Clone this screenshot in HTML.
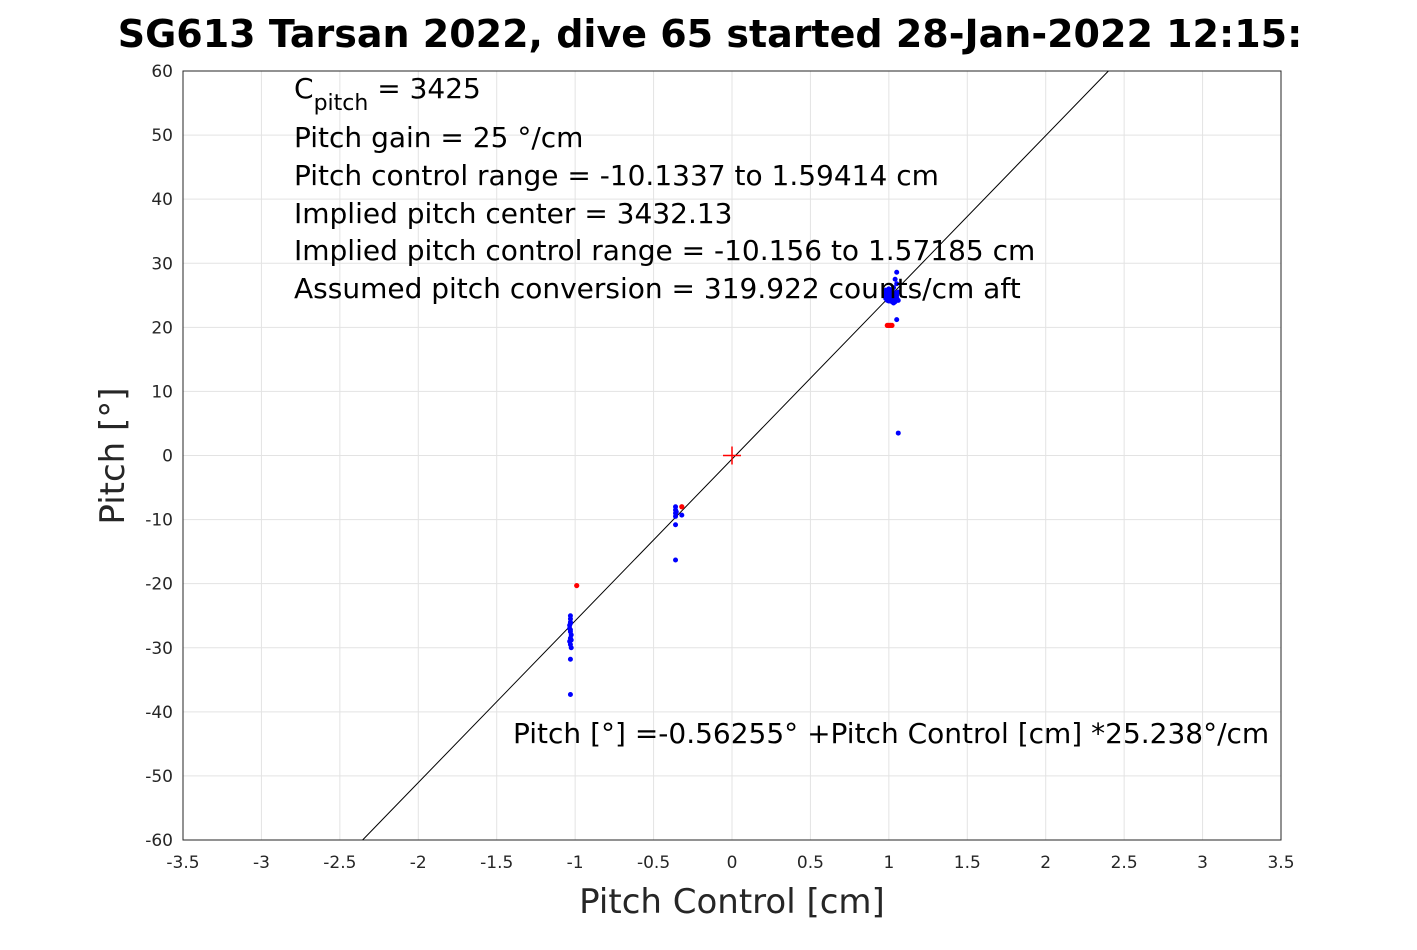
<!DOCTYPE html>
<html><head><meta charset="utf-8"><style>
body{margin:0;background:#fff;}
svg text{font-family:"DejaVu Sans","Liberation Sans",sans-serif;}
</style></head><body>
<svg id="chart" width="1417" height="945" viewBox="0 0 1417 945" xmlns="http://www.w3.org/2000/svg">
<rect width="1417" height="945" fill="#fff"/>
<text x="710" y="47" text-anchor="middle" font-size="38" font-weight="bold" fill="#000">SG613 Tarsan 2022, dive 65 started 28-Jan-2022 12:15:</text>
<g id="grid"></g><g id="axes"></g><g id="marks"></g>
<g font-size="28" fill="#000">
<text x="294" y="98">C<tspan font-size="22" dy="12">pitch</tspan><tspan dy="-12"> = 3425</tspan></text>
<text x="294" y="147">Pitch gain = 25 °/cm</text>
<text x="294" y="185">Pitch control range = -10.1337 to 1.59414 cm</text>
<text x="294" y="223">Implied pitch center = 3432.13</text>
<text x="294" y="260">Implied pitch control range = -10.156 to 1.57185 cm</text>
<text x="294" y="298">Assumed pitch conversion = 319.922 counts/cm aft</text>
<text x="513" y="743">Pitch [°] =-0.56255° +Pitch Control [cm] *25.238°/cm</text>
</g>
<text x="732" y="913" text-anchor="middle" font-size="34" fill="#262626">Pitch Control [cm]</text>
<text transform="translate(124,456) rotate(-90)" text-anchor="middle" font-size="34" fill="#262626">Pitch [°]</text>
</svg>
<script>
const xTicks=[-3.5,-3,-2.5,-2,-1.5,-1,-0.5,0,0.5,1,1.5,2,2.5,3,3.5];
const yTicks=[-60,-50,-40,-30,-20,-10,0,10,20,30,40,50,60];
const blueX=[-1.03,-1.03,-1.03,-1.035,-1.035,-1.03,-1.025,-1.03,-1.035,-1.03,-1.025,-1.03,-1.03,-1.025,-1.03,-1.03,-0.36,-0.36,-0.36,-0.36,-0.355,-0.36,-0.36,-0.32,0.97,0.98,0.99,1.0,1.01,1.02,1.03,1.04,1.05,1.0,1.03,1.05,1.04,1.05,1.06,1.05,1.06,1.06,0.98,1.02,0.99,1.0,1.01,1.02,1.03,1.04,1.05,0.98,1.0,1.02,1.04];
const blueY=[-25,-25.5,-26,-26.5,-27,-27.5,-28,-28.5,-29,-29.5,-30,-27.2,-26.2,-28.8,-31.8,-37.3,-8,-8.5,-9,-9.5,-8.8,-10.8,-16.3,-9.3,25,24.5,25.5,24.8,25.2,24,23.8,24.5,25,26,26.2,28.6,27.5,26.8,24.2,21.2,3.5,25.5,25.8,24.3,24.2,25.6,24.6,25.8,25.0,25.4,24.6,25.3,24.1,25.0,24.0];
const redX=[0.99,1.0,1.01,1.02,-0.99,-0.32];
const redY=[20.3,20.3,20.3,20.3,-20.3,-8];
const fitIntercept=-0.56255, fitSlope=25.238;
const X0=183,X1=1281,Y0=840,Y1=71;
const sx=v=>X0+(v+3.5)/7*(X1-X0);
const sy=v=>Y0-(v+60)/120*(Y0-Y1);
const NS='http://www.w3.org/2000/svg';
function mk(t,a,p){const e=document.createElementNS(NS,t);for(const k in a)e.setAttribute(k,a[k]);p.appendChild(e);return e;}
const grid=document.getElementById('grid'),axes=document.getElementById('axes'),marks=document.getElementById('marks');
xTicks.forEach(t=>{
 const l=mk('line',{x1:sx(t),x2:sx(t),y1:Y1,y2:Y0,stroke:'#e3e3e3','stroke-width':1},grid);
 
 
 const tx=mk('text',{x:sx(t),y:Y0+28,'text-anchor':'middle','font-size':17,fill:'#262626'},axes);
 tx.textContent=t;
 
 
});
yTicks.forEach(t=>{
 const l=mk('line',{x1:X0,x2:X1,y1:sy(t),y2:sy(t),stroke:'#e3e3e3','stroke-width':1},grid);
 
 
 const tx=mk('text',{x:X0-10,y:sy(t)+6,'text-anchor':'end','font-size':17,fill:'#262626'},axes);
 tx.textContent=t;
 
 
});
const box=mk('rect',{x:X0,y:Y1,width:X1-X0,height:Y0-Y1,fill:'none',stroke:'#262626','stroke-width':1},axes);


const xa=(-60-fitIntercept)/fitSlope, xb=(60-fitIntercept)/fitSlope;
const fl=mk('line',{x1:sx(xa),y1:sy(-60),x2:sx(xb),y2:sy(60),stroke:'#000','stroke-width':1},marks);


blueX.forEach((v,i)=>{
 const c=mk('circle',{cx:sx(v),cy:sy(blueY[i]),r:2.5,fill:'#0000ff'},marks);
 
 
});
redX.forEach((v,i)=>{
 const c=mk('circle',{cx:sx(v),cy:sy(redY[i]),r:2.6,fill:'#ff0000'},marks);
 
 
});
const cx=sx(0),cy=sy(0);
const cr=mk('path',{d:`M${cx-9},${cy}H${cx+9}M${cx},${cy-9}V${cy+9}`,stroke:'#ff0000','stroke-width':1.5,fill:'none'},marks);


</script>
</body></html>
